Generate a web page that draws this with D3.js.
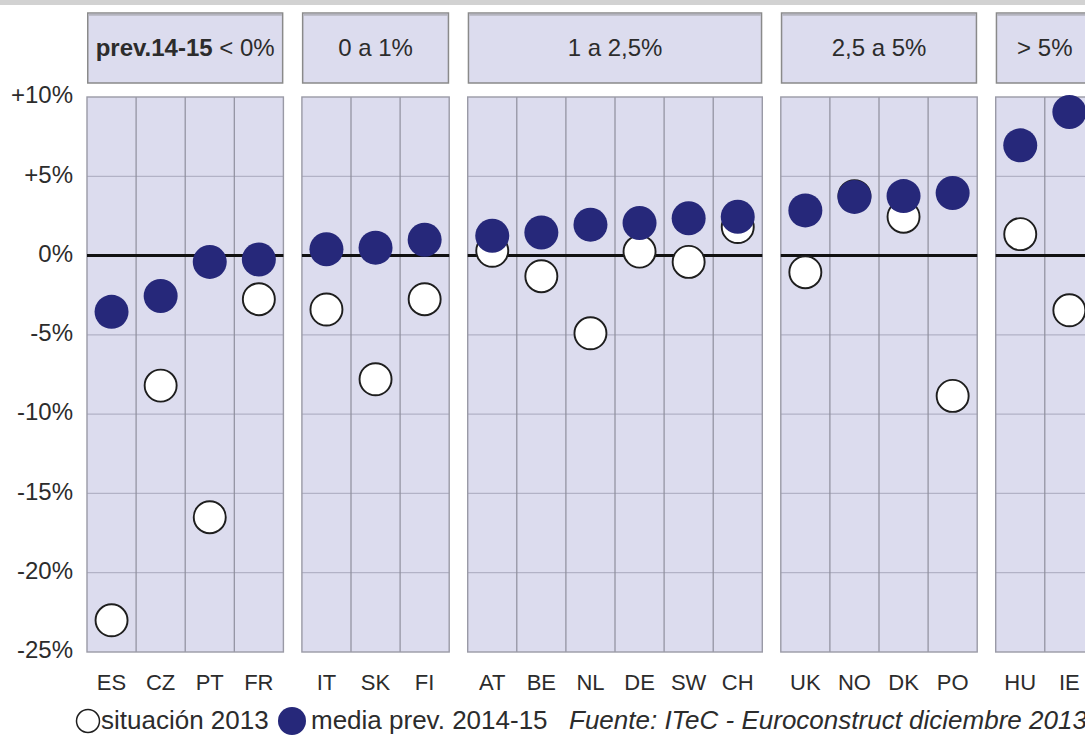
<!DOCTYPE html>
<html>
<head>
<meta charset="utf-8">
<script src="https://cdn.jsdelivr.net/npm/d3@7/dist/d3.min.js"></script>
<style>
  html, body { margin: 0; padding: 0; background: #fff; }
  svg { display: block; font-family: "Liberation Sans", Arial, Helvetica, sans-serif; }
</style>
</head>
<body>
<svg id="chart" width="1085" height="742"></svg>
<script>
// Growth bands (forecast 2014-15 average) and the countries in each band
const bandLabels = ["< 0%", "0 a 1%", "1 a 2,5%", "2,5 a 5%", "> 5%"];
const bandCountries = [
  ["ES", "CZ", "PT", "FR"],
  ["IT", "SK", "FI"],
  ["AT", "BE", "NL", "DE", "SW", "CH"],
  ["UK", "NO", "DK", "PO"],
  ["HU", "IE"]
];
// Values in %, same order as the countries above
const countries  = ["ES","CZ","PT","FR","IT","SK","FI","AT","BE","NL","DE","SW","CH","UK","NO","DK","PO","HU","IE"];
const situacion2013 = [-23.0, -8.2, -16.5, -2.75, -3.4, -7.8, -2.75, 0.3, -1.3, -4.9, 0.25, -0.4, 1.8, -1.05, 3.75, 2.45, -8.85, 1.35, -3.45];
const mediaPrev1415 = [-3.55, -2.55, -0.4, -0.25, 0.4, 0.5, 1.0, 1.25, 1.45, 1.95, 2.05, 2.35, 2.45, 2.85, 3.7, 3.75, 3.95, 6.95, 9.05];
const yTicks = [10, 5, 0, -5, -10, -15, -20, -25];
const yTickLabels = ["+10%", "+5%", "0%", "-5%", "-10%", "-15%", "-20%", "-25%"];

const svg = d3.select("#chart");

// layout
const left = 87, colW = 49.1, gap = 18.5;
const plotTop = 97, plotBottom = 652;
const headTop = 13, headBottom = 83;
const textColor = "#2c2c2c";

const y = d3.scaleLinear().domain([-25, 10]).range([plotBottom, plotTop]);

// build the panels: one band scale per growth band
let colsBefore = 0;
const panels = bandCountries.map((list, g) => {
  const x0 = left + colsBefore * colW + g * gap;
  const x1 = x0 + list.length * colW;
  colsBefore += list.length;
  const xs = d3.scaleBand().domain(list).range([x0, x1]).padding(0);
  return { g, list, x0, x1, xs };
});
const xOf = {};
panels.forEach(p => p.list.forEach(c => { xOf[c] = p.xs(c) + p.xs.bandwidth() / 2; }));

// thin grey strip at the very top
svg.append("rect").attr("x", 0).attr("y", 0).attr("width", 1085).attr("height", 5).attr("fill", "#d2d2d2");

// header boxes
const heads = svg.append("g");
panels.forEach(p => {
  heads.append("rect")
    .attr("x", p.x0 + 0.75).attr("y", headTop)
    .attr("width", p.x1 - p.x0 - 1.5).attr("height", headBottom - headTop)
    .attr("fill", "#dcdcee").attr("stroke", "#8a8a8a").attr("stroke-width", 1.5);
  heads.append("line")
    .attr("x1", p.x0 + 1.5).attr("x2", p.x1 - 1.5)
    .attr("y1", headTop + 1.8).attr("y2", headTop + 1.8)
    .attr("stroke", "#b4b4be").attr("stroke-width", 2);
  const t = heads.append("text")
    .attr("x", (p.x0 + p.x1) / 2).attr("y", 50)
    .attr("text-anchor", "middle").attr("dominant-baseline", "middle")
    .attr("font-size", 24).attr("fill", textColor);
  if (p.g === 0) {
    t.append("tspan").attr("font-weight", "bold").text("prev.14-15");
    t.append("tspan").text(" " + bandLabels[0]);
  } else {
    t.text(bandLabels[p.g]);
  }
});

// plot panels with grid
const plots = svg.append("g");
panels.forEach(p => {
  plots.append("rect")
    .attr("x", p.x0).attr("y", plotTop)
    .attr("width", p.x1 - p.x0).attr("height", plotBottom - plotTop)
    .attr("fill", "#dcdcee");
  plots.selectAll(null).data(yTicks.slice(1, -1)).enter().append("line")
    .attr("x1", p.x0).attr("x2", p.x1)
    .attr("y1", d => y(d)).attr("y2", d => y(d))
    .attr("stroke", "#b2b2c6").attr("stroke-width", 1.2);
  plots.selectAll(null).data(p.list.slice(1)).enter().append("line")
    .attr("x1", d => p.xs(d)).attr("x2", d => p.xs(d))
    .attr("y1", plotTop).attr("y2", plotBottom)
    .attr("stroke", "#8e8e9c").attr("stroke-width", 1.2);
  plots.append("rect")
    .attr("x", p.x0).attr("y", plotTop)
    .attr("width", p.x1 - p.x0).attr("height", plotBottom - plotTop)
    .attr("fill", "none").attr("stroke", "#9a9aa6").attr("stroke-width", 1.4);
  plots.append("line")
    .attr("x1", p.x0).attr("x2", p.x1)
    .attr("y1", y(0)).attr("y2", y(0))
    .attr("stroke", "#111").attr("stroke-width", 3);
});

// y axis labels
svg.append("g").selectAll("text").data(yTicks).enter().append("text")
  .attr("x", 73).attr("y", d => y(d))
  .attr("text-anchor", "end").attr("dominant-baseline", "middle")
  .attr("font-size", 24).attr("fill", textColor)
  .text((d, i) => yTickLabels[i]);

// country labels
svg.append("g").selectAll("text").data(countries).enter().append("text")
  .attr("x", d => xOf[d]).attr("y", 684)
  .attr("text-anchor", "middle").attr("dominant-baseline", "middle")
  .attr("font-size", 22).attr("fill", textColor)
  .text(d => d);

// markers: 2013 (open) below, 2014-15 forecast (filled) on top
const marks = svg.append("g");
marks.selectAll("circle.open").data(countries).enter().append("circle")
  .attr("class", "open")
  .attr("cx", d => xOf[d]).attr("cy", (d, i) => y(situacion2013[i]))
  .attr("r", 16).attr("fill", "#fff").attr("stroke", "#1e1e1e").attr("stroke-width", 1.9);
marks.selectAll("circle.fill").data(countries).enter().append("circle")
  .attr("class", "fill")
  .attr("cx", d => xOf[d]).attr("cy", (d, i) => y(mediaPrev1415[i]))
  .attr("r", 17).attr("fill", "#26287a");

// legend and source (the source line runs off the right edge)
const leg = svg.append("g");
leg.append("circle").attr("cx", 88).attr("cy", 721).attr("r", 11.5)
  .attr("fill", "#fff").attr("stroke", "#1e1e1e").attr("stroke-width", 1.5);
leg.append("text").attr("x", 101).attr("y", 722).attr("dominant-baseline", "middle")
  .attr("font-size", 26).attr("fill", textColor).text("situación 2013");
leg.append("circle").attr("cx", 292).attr("cy", 721).attr("r", 14).attr("fill", "#26287a");
leg.append("text").attr("x", 311).attr("y", 722).attr("dominant-baseline", "middle")
  .attr("font-size", 26).attr("fill", textColor).text("media prev. 2014-15");
leg.append("text").attr("x", 569).attr("y", 722).attr("dominant-baseline", "middle")
  .attr("font-size", 26).attr("font-style", "italic").attr("fill", textColor)
  .text("Fuente: ITeC - Euroconstruct diciembre 2013");
</script>
</body>
</html>
